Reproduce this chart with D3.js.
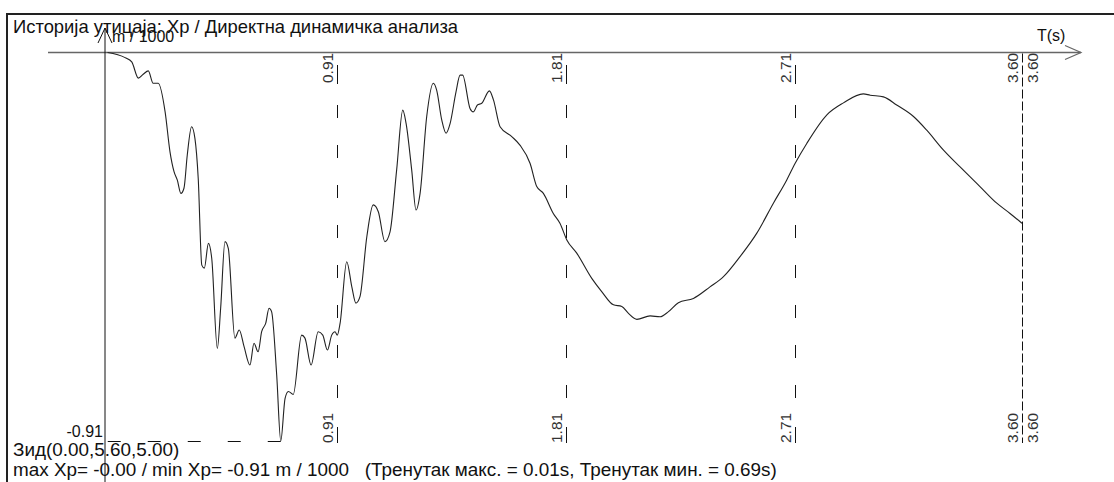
<!DOCTYPE html>
<html><head><meta charset="utf-8">
<script src="https://cdn.jsdelivr.net/npm/d3@7"></script>
<style>
html,body{margin:0;padding:0;background:#fff;}
svg{display:block;}
text{font-family:"Liberation Sans",Arial,sans-serif;white-space:pre;}
</style></head>
<body>
<svg id="c" width="1114" height="482"></svg>
<script>
// ---- data ----
const times = [0.01,0.079,0.105,0.131,0.150,0.170,0.189,0.209,0.236,0.255,0.271,0.284,0.298,0.310,0.323,0.340,0.353,0.366,0.380,0.390,
0.406,0.419,0.441,0.454,0.471,0.484,0.510,0.527,0.546,0.569,0.585,0.601,0.615,0.631,0.644,0.654,0.674,0.690,0.707,0.720,
0.739,0.772,0.785,0.809,0.837,0.855,0.873,0.890,0.903,0.912,0.923,0.949,0.969,0.985,1.001,1.028,1.053,1.073,1.099,1.119,
1.145,1.169,1.182,1.204,1.221,1.237,1.263,1.289,1.302,1.322,1.339,1.355,1.378,1.394,1.404,1.433,1.446,1.462,1.479,1.509,
1.525,1.551,1.597,1.629,1.669,1.695,1.721,1.760,1.786,1.813,1.852,1.911,1.950,1.996,2.029,2.055,2.088,2.140,2.179,2.212,
2.251,2.310,2.375,2.428,2.493,2.559,2.624,2.676,2.709,2.755,2.834,2.899,2.977,3.004,3.056,3.108,3.174,3.226,3.291,3.357,
3.435,3.501,3.553,3.600];
const xp = [0.000,-0.012,-0.022,-0.060,-0.051,-0.043,-0.072,-0.072,-0.139,-0.232,-0.279,-0.299,-0.330,-0.318,-0.240,-0.174,-0.201,-0.295,-0.498,-0.505,
-0.447,-0.482,-0.693,-0.599,-0.443,-0.459,-0.669,-0.650,-0.689,-0.732,-0.681,-0.701,-0.654,-0.634,-0.599,-0.607,-0.755,-0.910,-0.810,-0.794,
-0.801,-0.662,-0.669,-0.732,-0.654,-0.662,-0.697,-0.662,-0.654,-0.662,-0.634,-0.490,-0.549,-0.587,-0.572,-0.431,-0.357,-0.373,-0.443,-0.420,
-0.275,-0.135,-0.166,-0.275,-0.369,-0.330,-0.150,-0.072,-0.088,-0.158,-0.189,-0.166,-0.092,-0.053,-0.053,-0.131,-0.139,-0.123,-0.119,-0.090,
-0.111,-0.174,-0.197,-0.217,-0.260,-0.314,-0.330,-0.377,-0.400,-0.439,-0.470,-0.529,-0.560,-0.591,-0.595,-0.611,-0.625,-0.617,-0.619,-0.607,
-0.586,-0.576,-0.549,-0.525,-0.478,-0.423,-0.353,-0.299,-0.260,-0.213,-0.146,-0.118,-0.097,-0.100,-0.104,-0.123,-0.150,-0.182,-0.228,-0.268,
-0.314,-0.353,-0.377,-0.400];
const tickTimes = [0.91, 1.81, 2.71, 3.60];
const tickLabels = ["0.91", "1.81", "2.71", "3.60"];
const titleText = "Историја утицаја: Xp / Директна динамичка анализа";
const yUnitText = "m / 1000";
const xUnitText = "T(s)";
const minLabel = "-0.91";
const minTime = 0.69, minValue = -0.91;
const footer1 = "Зид(0.00,5.60,5.00)";
const footer2 = "max Xp= -0.00 / min Xp= -0.91 m / 1000   (Тренутак макс. = 0.01s, Тренутак мин. = 0.69s)";

// ---- scales ----
const x = d3.scaleLinear().domain([0, 3.60]).range([105, 1022]);
const y = d3.scaleLinear().domain([0, -0.91]).range([52.5, 441]);

const svg = d3.select("#c");

// frame
svg.append("line").attr("x1",7).attr("x2",1114).attr("y1",14).attr("y2",14).attr("stroke","#222").attr("stroke-width",2);
svg.append("line").attr("x1",7).attr("x2",7).attr("y1",13).attr("y2",482).attr("stroke","#222").attr("stroke-width",2);

// time axis (top)
svg.append("line").attr("x1",48).attr("x2",1081).attr("y1",y(0)).attr("y2",y(0)).attr("stroke","#666").attr("stroke-width",1.6);
svg.append("path").attr("d",`M1065,${y(0)-7}L1081,${y(0)}L1065,${y(0)+7}`).attr("fill","none").attr("stroke","#666").attr("stroke-width",1.2);

// value axis (vertical)
svg.append("line").attr("x1",x(0)).attr("x2",x(0)).attr("y1",28).attr("y2",482).attr("stroke","#111").attr("stroke-width",1);
svg.append("path").attr("d",`M${x(0)-7},43L${x(0)},28L${x(0)+7},43`).attr("fill","none").attr("stroke","#111").attr("stroke-width",1);

// ticks / grid
tickTimes.forEach((t,i)=>{
  const tx = Math.round(x(t)) + 0.5;
  const last = i === tickTimes.length-1;
  const g = svg.append("g");
  if (last) {
    g.append("line").attr("x1",tx).attr("x2",tx).attr("y1",y(0)+1).attr("y2",443).attr("stroke","#111").attr("stroke-dasharray","9,3");
  } else {
    g.append("line").attr("x1",tx).attr("x2",tx).attr("y1",65).attr("y2",84).attr("stroke","#111");
    g.append("line").attr("x1",tx).attr("x2",tx).attr("y1",105).attr("y2",425).attr("stroke","#111").attr("stroke-dasharray","13,27");
    g.append("line").attr("x1",tx).attr("x2",tx).attr("y1",427).attr("y2",443).attr("stroke","#111");
  }
  const offs = last ? [-4.5, 15] : [-4.5];
  offs.forEach(o=>{
    [83, 443].forEach(yy=>{
      g.append("text").attr("transform",`translate(${tx+o},${yy}) rotate(-90)`)
        .attr("font-size",15.5).attr("fill","#333").attr("text-anchor","start").text(tickLabels[i]);
    });
  });
});

// min marker dashed line
svg.append("line").attr("x1",x(minTime)).attr("x2",x(0)).attr("y1",y(minValue)+0.5).attr("y2",y(minValue)+0.5)
  .attr("stroke","#111").attr("stroke-dasharray","13,27");

// curve
const line = d3.line().x((d,i)=>x(times[i])).y(d=>y(d)).curve(d3.curveMonotoneX);
svg.append("path").datum(xp).attr("d",line).attr("fill","none").attr("stroke","#222").attr("stroke-width",1.1);

// texts
svg.append("text").attr("x",13).attr("y",33).attr("font-size",18.4).attr("fill","#111").text(titleText);
svg.append("text").attr("x",112).attr("y",42).attr("font-size",16).attr("fill","#111").text(yUnitText);
svg.append("text").attr("x",1037).attr("y",41).attr("font-size",16).attr("fill","#111").text(xUnitText);
svg.append("text").attr("x",103).attr("y",437).attr("font-size",16).attr("fill","#111").attr("text-anchor","end").text(minLabel);
svg.append("text").attr("x",13).attr("y",456).attr("font-size",18.9).attr("fill","#111").text(footer1);
svg.append("text").attr("x",13).attr("y",476).attr("font-size",18.9).attr("fill","#111").text(footer2);
</script>
</body></html>
